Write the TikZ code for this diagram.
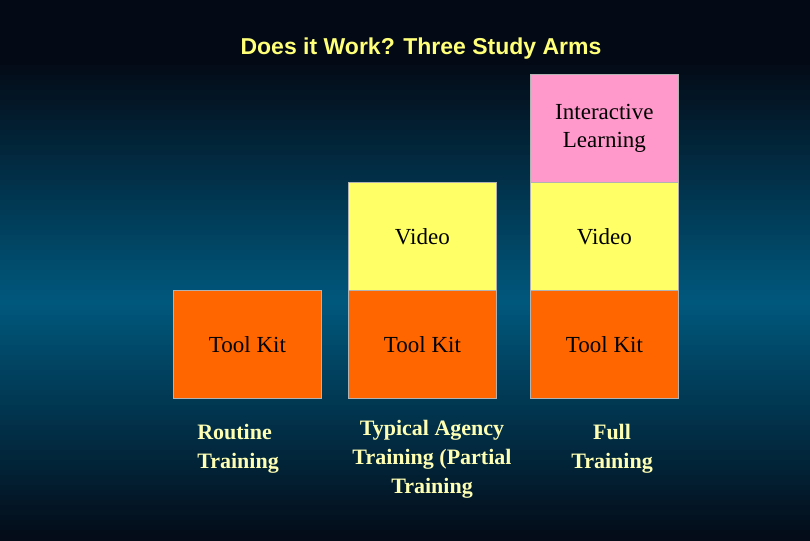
\documentclass[tikz,border=0pt]{standalone}
\usepackage{fontspec}
\setsansfont{Liberation Sans}
\setmainfont{Liberation Serif}
\definecolor{bgtop}{RGB}{3,10,22}
\definecolor{bgmid}{RGB}{0,88,125}
\definecolor{orng}{RGB}{255,102,0}
\definecolor{yell}{RGB}{255,255,102}
\definecolor{pnk}{RGB}{255,153,204}
\definecolor{labc}{RGB}{255,255,180}
\definecolor{titc}{RGB}{255,255,120}
\begin{document}
\begin{tikzpicture}[x=1pt,y=-1pt,
  blk/.style={draw=gray!60,line width=0.8pt,minimum width=148pt,minimum height=108pt,anchor=north west,font=\fontsize{23}{28}\selectfont,align=center,inner sep=0pt},
  lab/.style={text=labc,font=\bfseries\fontsize{22}{29}\selectfont}]
\foreach \i in {0,...,107} {
  \pgfmathsetmacro{\p}{max(0,100-abs(\i*5-300)/2.4)}
  \fill[bgmid!\p!bgtop] (0,\i*5) rectangle (810,\i*5+5.5);
}
\useasboundingbox (0,0) rectangle (810,540);
\node[text=titc,font=\sffamily\bfseries\fontsize{23}{28}\selectfont] (title) at (421,49) {Does it Work? Three Study Arms};
\node[blk,fill=orng] (tk1) at (173,290) {Tool Kit};
\node[blk,fill=yell] (v2) at (348,182) {Video};
\node[blk,fill=orng] (tk2) at (348,290) {Tool Kit};
\node[blk,fill=pnk] (il) at (530,74) {Interactive\\Learning};
\node[blk,fill=yell] (v3) at (530,182) {Video};
\node[blk,fill=orng] (tk3) at (530,290) {Tool Kit};
\node[lab,align=left] (l1) at (238,449) {Routine\\Training};
\node[lab,align=center] (l2) at (432,459) {Typical Agency\\Training (Partial\\Training};
\node[lab,align=center] (l3) at (612,449) {Full\\Training};
\end{tikzpicture}
\end{document}
